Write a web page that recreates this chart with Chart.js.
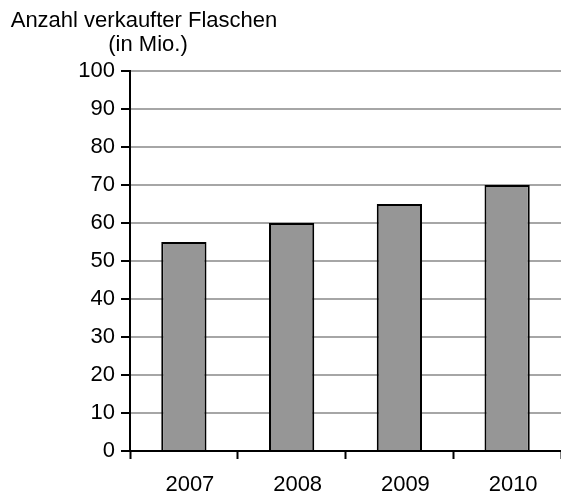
<!DOCTYPE html>
<html><head><meta charset="utf-8">
<script src="https://cdn.jsdelivr.net/npm/chart.js@4/dist/chart.umd.min.js"></script>
<style>html,body{margin:0;padding:0;background:#fff}#wrap{width:561px;height:498px;position:relative}</style>
</head><body><div id="wrap"><canvas id="c"></canvas></div>
<script>
const categories = ["2007", "2008", "2009", "2010"];
const bottles = [55, 60, 65, 70];
const yTicks = [0, 10, 20, 30, 40, 50, 60, 70, 80, 90, 100];
const titleLines = ["Anzahl verkaufter Flaschen", "(in Mio.)"];

const FONT = "Liberation Sans, Arial, sans-serif";
const titlePlugin = {
  id: 'tt',
  afterDraw(chart) {
    const ctx = chart.ctx;
    ctx.save();
    ctx.fillStyle = '#000';
    ctx.font = '22px ' + FONT;
    ctx.textAlign = 'center';
    ctx.textBaseline = 'middle';
    ctx.fillText(titleLines[0], 144, 21);
    ctx.fillText(titleLines[1], 148, 45);
    ctx.restore();
  }
};

new Chart(document.getElementById('c'), {
  type: 'bar',
  data: {
    labels: categories,
    datasets: [{
      data: bottles,
      backgroundColor: '#969696',
      borderColor: '#000',
      borderWidth: 2,
      borderSkipped: 'bottom',
      categoryPercentage: 1,
      barPercentage: 0.42
    }]
  },
  options: {
    responsive: true,
    maintainAspectRatio: false,
    animation: false,
    devicePixelRatio: 1,
    layout: { padding: { top: 71, right: 0, left: 0, bottom: 0 } },
    plugins: { legend: { display: false }, tooltip: { enabled: false } },
    scales: {
      x: {
        grid: { offset: true, drawOnChartArea: false, tickColor: '#000', tickLength: 8, tickWidth: 2 },
        border: { color: '#000', width: 2 },
        ticks: { color: '#000', font: { size: 22, family: FONT }, padding: 13, labelOffset: 6, maxRotation: 0 },
        afterFit(s) { s.height = 47; }
      },
      y: {
        min: 0, max: 100,
        afterBuildTicks(s) { s.ticks = yTicks.map(v => ({ value: v })); },
        grid: { color: '#a6a6a6', lineWidth: 2, tickColor: '#000', tickLength: 9, tickWidth: 2 },
        border: { color: '#000', width: 2 },
        ticks: { color: '#000', font: { size: 22, family: FONT }, padding: 6 },
        afterFit(s) { s.width = 130; }
      }
    }
  },
  plugins: [titlePlugin]
});
</script></body></html>
